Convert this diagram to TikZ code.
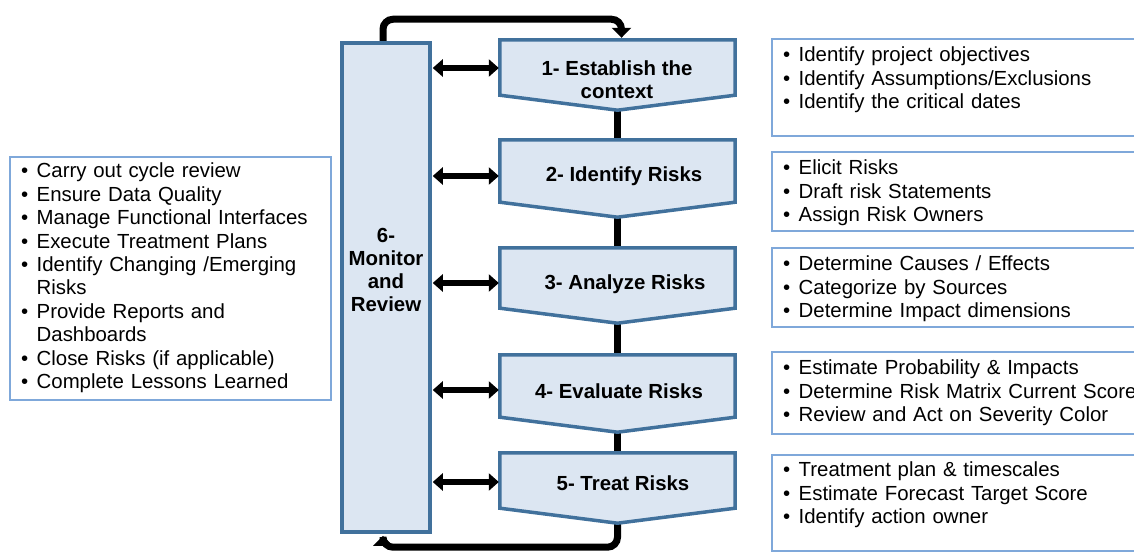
\documentclass[tikz,border=0pt]{standalone}
\usepackage{fontspec}
\setmainfont{Liberation Sans}
\usetikzlibrary{arrows.meta,calc}
\definecolor{stepfill}{HTML}{DCE6F2}
\definecolor{stepline}{HTML}{41719C}
\definecolor{listline}{HTML}{7FA8DA}
\newcommand{\bitem}[1]{\makebox[15.5pt][l]{\textbullet}#1\par}
\newcommand{\bcont}[1]{\hspace*{15.5pt}#1\par}
\tikzset{
  stepnode/.style={minimum width=235pt, inner sep=0pt, align=center,
    font=\fontsize{20.4}{23}\selectfont\bfseries},
  stepshape/.style={draw=stepline, fill=stepfill, line width=3.5pt, line join=miter},
  monbox/.style={draw=stepline, fill=stepfill, line width=3.5pt, minimum width=88pt, minimum height=489pt, inner sep=0pt},
  montext/.style={align=center, font=\fontsize{20.4}{23.3}\selectfont\bfseries, inner sep=0pt},
  listbox/.style={draw=listline, line width=1.3pt},
  listtext/.style={anchor=north west, inner sep=0pt, text width=380pt, align=left,
    font=\fontsize{20.4}{23.4}\selectfont},
  flow/.style={line width=7pt, black},
  loop/.style={line width=7pt, black, rounded corners=10pt, -{Triangle[width=19pt,length=10pt]}},
  dbl/.style={line width=6pt, black, {Triangle[width=17pt,length=10pt]}-{Triangle[width=17pt,length=10pt]}, shorten <=1pt, shorten >=1pt},
}
\begin{document}
\begin{tikzpicture}[x=1pt,y=-1pt]
\useasboundingbox (0,0) rectangle (1134,553);
\clip (0,0) rectangle (1134,553);
\fill[white] (0,0) rectangle (1134,553);

% step nodes (shape frames)
\node[stepnode, minimum height=70pt] (s1) at (617.5,75) {};
\node[stepnode, minimum height=77pt] (s2) at (617.5,178.5) {};
\node[stepnode, minimum height=75pt] (s3) at (617.5,285.5) {};
\node[stepnode, minimum height=77pt] (s4) at (617.5,393.5) {};
\node[stepnode, minimum height=70pt] (s5) at (617.5,488) {};
\node[monbox] (mon) at (386,287.5) {};

% connectors behind shapes
\draw[flow] (s1.south) -- (s2.north);
\draw[flow] (s2.south) -- (s3.north);
\draw[flow] (s3.south) -- (s4.north);
\draw[flow] (s4.south) -- (s5.north);
\coordinate (topin) at ([xshift=4pt,yshift=2pt]s1.north);
\draw[loop] ([xshift=-3pt]mon.north) -- ++(0,-22) -| (topin);
\coordinate (botin) at ([xshift=-3pt,yshift=-2pt]mon.south);
\draw[loop] (s5.south) -- ++(0,24) -| (botin);

% pentagon shapes
\foreach \s in {s1,s2,s3,s4,s5}{
  \draw[stepshape] (\s.north west) -- (\s.north east) -- ($(\s.south east)+(0,-15)$)
    -- (\s.south) -- ($(\s.south west)+(0,-15)$) -- cycle;
}
\node[monbox] at (mon) {};

% step texts
\node[stepnode] (t1) at (617,80) {1- Establish the\\context};
\node[stepnode] (t2) at (624,176) {2- Identify Risks};
\node[stepnode] (t3) at (625,284) {3- Analyze Risks};
\node[stepnode] (t4) at (619,391) {4- Evaluate Risks};
\node[stepnode] (t5) at (623,483) {5- Treat Risks};
\node[montext] (mt) at (386,270) {6-\\Monitor\\and\\Review};

% double arrows
\draw[dbl] ([yshift=7pt]s1.west -| mon.east) -- ([yshift=7pt]s1.west);
\draw[dbl] ([yshift=2.5pt]s2.west -| mon.east) -- ([yshift=2.5pt]s2.west);
\draw[dbl] ([yshift=2.5pt]s3.west -| mon.east) -- ([yshift=2.5pt]s3.west);
\draw[dbl] ([yshift=3.5pt]s4.west -| mon.east) -- ([yshift=3.5pt]s4.west);
\draw[dbl] ([yshift=6pt]s5.west -| mon.east) -- ([yshift=6pt]s5.west);

% right lists
\draw[listbox] (772,39) rectangle (1150,136);
\draw[listbox] (772,152) rectangle (1150,231);
\draw[listbox] (772,248) rectangle (1150,327);
\draw[listbox] (772,352) rectangle (1150,434);
\draw[listbox] (772,455) rectangle (1150,551);
\node[listtext] (l1) at (783,47) {\bitem{Identify project objectives}\bitem{Identify Assumptions/Exclusions}\bitem{Identify the critical dates}};
\node[listtext] (l2) at (783,160) {\bitem{Elicit Risks}\bitem{Draft risk Statements}\bitem{Assign Risk Owners}};
\node[listtext] (l3) at (783,256) {\bitem{Determine Causes / Effects}\bitem{Categorize by Sources}\bitem{Determine Impact dimensions}};
\node[listtext] (l4) at (783,360) {\bitem{Estimate Probability \& Impacts}\bitem{Determine Risk Matrix Current Score}\bitem{Review and Act on Severity Color}};
\node[listtext] (l5) at (783,462) {\bitem{Treatment plan \& timescales}\bitem{Estimate Forecast Target Score}\bitem{Identify action owner}};

% left list
\draw[listbox] (10,157) rectangle (331,400);
\node[listtext, text width=300pt] (ll) at (21,163) {\bitem{Carry out cycle review}\bitem{Ensure Data Quality}\bitem{Manage Functional Interfaces}\bitem{Execute Treatment Plans}\bitem{Identify Changing /Emerging}\bcont{Risks}\bitem{Provide Reports and}\bcont{Dashboards}\bitem{Close Risks (if applicable)}\bitem{Complete Lessons Learned}};
\end{tikzpicture}
\end{document}
